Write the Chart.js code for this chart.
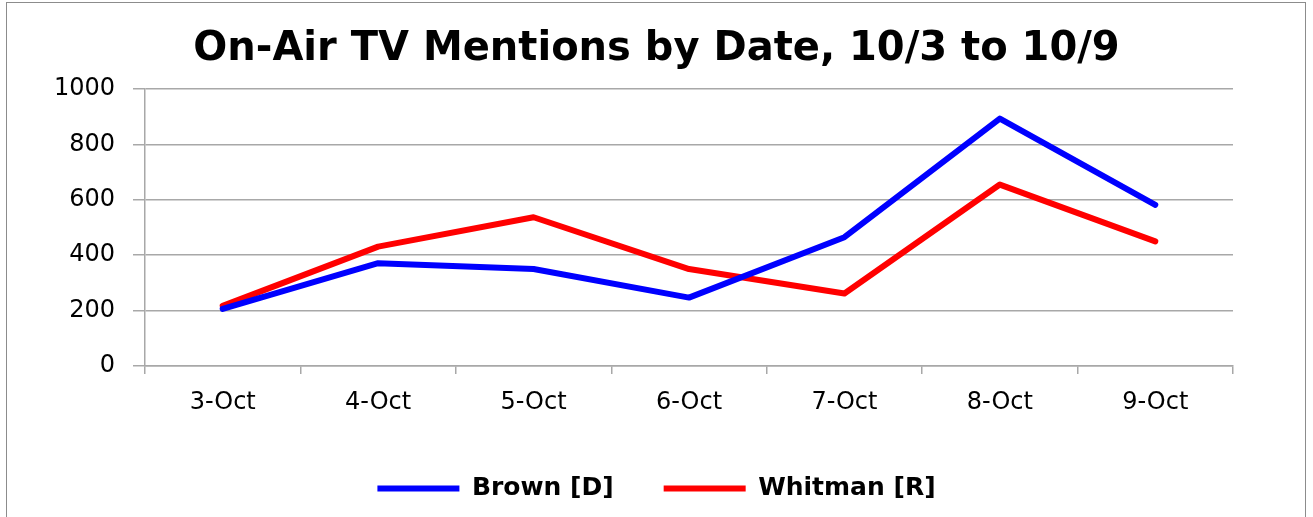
<!DOCTYPE html>
<html>
<head>
<meta charset="utf-8">
<script src="https://cdn.jsdelivr.net/npm/chart.js@4"></script>
<style>
  body { margin: 0; background: #fff; }
  #wrap { position: relative; width: 1313px; height: 517px; overflow: hidden; }
  #frame { position: absolute; left: 6px; top: 2px; width: 1300px; height: 530px; border: 1px solid #8c8c8c; box-sizing: border-box; }
  canvas { position: absolute; left: 0; top: 0; }
</style>
</head>
<body>
<div id="wrap">
  <div id="frame"></div>
  <canvas id="lineChart" width="1313" height="517"></canvas>
</div>
<script>
const dates = ["3-Oct", "4-Oct", "5-Oct", "6-Oct", "7-Oct", "8-Oct", "9-Oct"];
const brown = [206, 371, 350, 247, 465, 893, 582];
const whitman = [217, 431, 537, 350, 262, 655, 450];
const yTicks = [0, 200, 400, 600, 800, 1000];

document.addEventListener("DOMContentLoaded", function () {
    // Line chart
    new Chart(document.getElementById("lineChart"), {
        type: "line",
        data: {
            labels: dates,
            datasets: [{
                label: "Brown [D]",
                data: brown,
                borderColor: "#0000ff",
                backgroundColor: "#0000ff",
                borderWidth: 6,
                borderCapStyle: "round",
                borderJoinStyle: "round",
                pointRadius: 0,
                tension: 0
            }, {
                label: "Whitman [R]",
                data: whitman,
                borderColor: "#ff0000",
                backgroundColor: "#ff0000",
                borderWidth: 6,
                borderCapStyle: "round",
                borderJoinStyle: "round",
                pointRadius: 0,
                tension: 0
            }]
        },
        options: {
            responsive: false,
            animation: false,
            layout: { padding: { left: 0, right: 0, top: 0, bottom: 6 } },
            plugins: {
                title: {
                    display: true,
                    text: "On-Air TV Mentions by Date, 10/3 to 10/9",
                    color: "#000",
                    font: { family: "'DejaVu Sans'", size: 40, weight: "bold" },
                    padding: { top: 26, bottom: 15 }
                },
                legend: {
                    position: "bottom",
                    labels: {
                        usePointStyle: true,
                        pointStyle: "line",
                        pointStyleWidth: 82,
                        padding: 50,
                        color: "#000",
                        font: { family: "'DejaVu Sans'", size: 25, weight: "bold" }
                    }
                },
                tooltip: { enabled: false }
            },
            scales: {
                x: {
                    offset: true,
                    grid: {
                        offset: true,
                        drawOnChartArea: false,
                        drawTicks: true,
                        tickLength: 8,
                        color: "#a8a8a8",
                        lineWidth: 1.5
                    },
                    border: { color: "#a8a8a8", width: 1.5 },
                    ticks: {
                        color: "#000",
                        padding: 14,
                        maxRotation: 0,
                        font: { family: "'DejaVu Sans'", size: 24 }
                    },
                    afterFit: function (scale) { scale.height = 60; }
                },
                y: {
                    min: 0,
                    max: 1000,
                    afterBuildTicks: function (scale) {
                        scale.ticks = yTicks.map(v => ({ value: v }));
                    },
                    grid: {
                        color: "#a8a8a8",
                        lineWidth: 1.5,
                        tickLength: 12
                    },
                    border: { color: "#a8a8a8", width: 1.5 },
                    ticks: {
                        color: "#000",
                        padding: 18,
                        font: { family: "'DejaVu Sans'", size: 24 },
                        callback: function (value) { return String(value); }
                    },
                    afterFit: function (scale) { scale.width = 145; }
                },
                // empty right-hand space, keeps the title and legend centred on the page
                yRight: {
                    position: "right",
                    min: 0,
                    max: 1000,
                    grid: { display: false },
                    border: { display: false },
                    ticks: { display: false },
                    afterFit: function (scale) { scale.width = 80; }
                }
            }
        }
    });
});
</script>
</body>
</html>
